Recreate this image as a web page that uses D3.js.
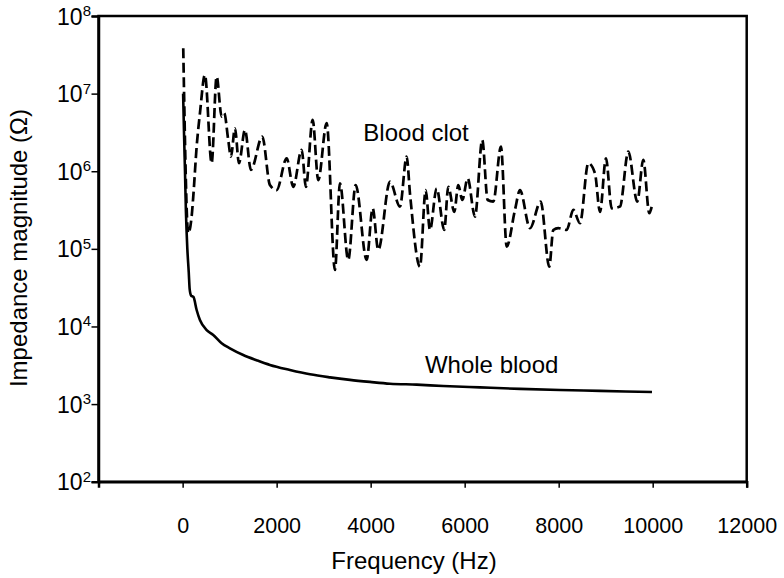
<!DOCTYPE html>
<html>
<head>
<meta charset="utf-8">
<script src="https://cdn.jsdelivr.net/npm/d3@7"></script>
<style>
  html, body { margin: 0; padding: 0; background: #fff; }
  svg { display: block; font-family: "Liberation Sans", Arial, sans-serif; }
</style>
</head>
<body>
<svg id="chart" width="784" height="578"></svg>
<script>
// ---- Data ----
const clotFreq = [13, 119, 191, 226, 298, 368, 474, 617, 723, 830, 885, 970, 1028, 1113, 1198, 1326, 1453,
  1694, 1857, 2000, 2213, 2353, 2532, 2623, 2766, 2885, 3064, 3240, 3347, 3523, 3681, 3915, 4043, 4162,
  4411, 4623, 4766, 4836, 5049, 5170, 5262, 5404, 5566, 5651, 5779, 5864, 5949, 6064, 6219, 6374, 6489,
  6609, 6772, 6894, 7070, 7177, 7389, 7617, 7800, 7885, 7991, 8170, 8311, 8453, 8630, 8772, 8879, 9006,
  9128, 9304, 9481, 9672, 9800, 9928, 9979];
const clotZ = [3.85e7, 1.59e5, 2.6e5, 4.7e5, 2.07e6, 5.58e6, 1.74e7, 1.27e6, 1.66e7, 5.06e6, 5.6e6, 2.53e6,
  1.54e6, 3.58e6, 1.27e6, 3.4e6, 1.04e6, 2.79e6, 6.65e5, 5.7e5, 1.47e6, 6.3e5, 1.88e6, 6.3e5, 4.58e6, 7.7e5,
  4.16e6, 5.35e4, 7.0e5, 7.2e4, 6.65e5, 7.2e4, 3.33e5, 9.7e4, 7.35e5, 3.5e5, 1.54e6, 5.2e5, 5.9e4, 5.7e5,
  1.75e5, 6.0e5, 1.75e5, 6.3e5, 3.0e5, 6.65e5, 4.26e5, 8.1e5, 2.6e5, 2.53e6, 4.26e5, 4.06e5, 2.07e6, 1.07e5,
  3.17e5, 5.7e5, 1.85e5, 4.06e5, 5.9e4, 1.75e5, 1.85e5, 1.75e5, 3.17e5, 2.14e5, 1.27e6, 9.4e5, 3.0e5, 1.47e6,
  3.33e5, 3.5e5, 1.79e6, 4.06e5, 1.4e6, 2.88e5, 3.5e5];

const bloodFreq = [10, 30, 50, 70, 100, 130, 150, 180, 230, 298, 368, 511, 651, 830, 1006, 1289, 1574, 1857,
  2283, 2709, 3134, 3560, 3985, 4411, 4979, 5545, 6326, 7177, 8028, 8879, 9985];
const bloodZ = [1e7, 3e6, 1e6, 3e5, 1e5, 5e4, 3e4, 2.5e4, 2.4e4, 1.63e4, 1.21e4, 9.0e3, 7.77e3, 6.07e3, 5.23e3,
  4.29e3, 3.67e3, 3.19e3, 2.75e3, 2.42e3, 2.21e3, 2.05e3, 1.93e3, 1.83e3, 1.78e3, 1.71e3, 1.64e3, 1.57e3,
  1.52e3, 1.48e3, 1.43e3];

const xTicks = [0, 2000, 4000, 6000, 8000, 10000, 12000];
const yTickExp = [2, 3, 4, 5, 6, 7, 8];
const seriesLabels = [
  { text: "Blood clot", f: 3845, z: 2.45e6 },
  { text: "Whole blood", f: 5155, z: 2.5e3 }
];
const xTitle = "Frequency (Hz)";
const yTitle = "Impedance magnitude (Ω)";

// ---- Layout ----
const L = 98.5, R = 746.7, T = 16, B = 481.7;
const svg = d3.select("#chart");

const x = d3.scaleLinear().domain([-1790, 12000]).range([L, R]);
const y = d3.scaleLog().domain([1e2, 1e8]).range([B, T]);

// frame (top & right border)
svg.append("rect")
  .attr("x", L).attr("y", T).attr("width", R - L).attr("height", B - T)
  .attr("fill", "none").attr("stroke", "#000").attr("stroke-width", 2.5);

// x axis
const gx = svg.append("g").attr("transform", `translate(0,${B})`)
  .call(d3.axisBottom(x).tickValues(xTicks).tickSize(6).tickPadding(30).tickFormat(d3.format("d")));
gx.select(".domain").attr("stroke-width", 2.5);
gx.selectAll(".tick line").attr("stroke-width", 1.5);
gx.selectAll(".tick text").attr("font-size", 21.5).attr("font-family", "Liberation Sans, Arial, sans-serif").attr("fill", "#000");

// y axis
const gy = svg.append("g").attr("transform", `translate(${L},0)`)
  .call(d3.axisLeft(y).tickValues(yTickExp.map(e => Math.pow(10, e))).tickSize(7).tickFormat(""));
gy.select(".domain").attr("stroke-width", 2.5);
gy.selectAll(".tick line").attr("stroke-width", 1.5);

const ylab = svg.append("g");
yTickExp.forEach(e => {
  const t = ylab.append("text")
    .attr("x", 91).attr("y", y(Math.pow(10, e)) + 8.5)
    .attr("text-anchor", "end").attr("font-size", 23).attr("fill", "#000");
  t.append("tspan").text("10");
  t.append("tspan").attr("font-size", 15).attr("dy", -8.5).text(e);
});

// lines
const line = d3.line().x(d => x(d[0])).y(d => y(d[1])).curve(d3.curveMonotoneX);

svg.append("path")
  .datum(bloodFreq.map((f, i) => [f, bloodZ[i]]))
  .attr("d", line).attr("fill", "none").attr("stroke", "#000").attr("stroke-width", 2.6);

svg.append("path")
  .datum(clotFreq.map((f, i) => [f, clotZ[i]]))
  .attr("d", line).attr("fill", "none").attr("stroke", "#000").attr("stroke-width", 2.7)
  .attr("stroke-dasharray", "10,4.5");

// series labels
seriesLabels.forEach(s => {
  svg.append("text").attr("x", x(s.f)).attr("y", y(s.z))
    .attr("font-size", 24).attr("fill", "#000").text(s.text);
});

// axis titles
svg.append("text").attr("x", 414).attr("y", 569).attr("text-anchor", "middle")
  .attr("font-size", 24).attr("fill", "#000").text(xTitle);
svg.append("text").attr("transform", "translate(27,248) rotate(-90)").attr("text-anchor", "middle")
  .attr("font-size", 24).attr("fill", "#000").text(yTitle);
</script>
</body>
</html>
